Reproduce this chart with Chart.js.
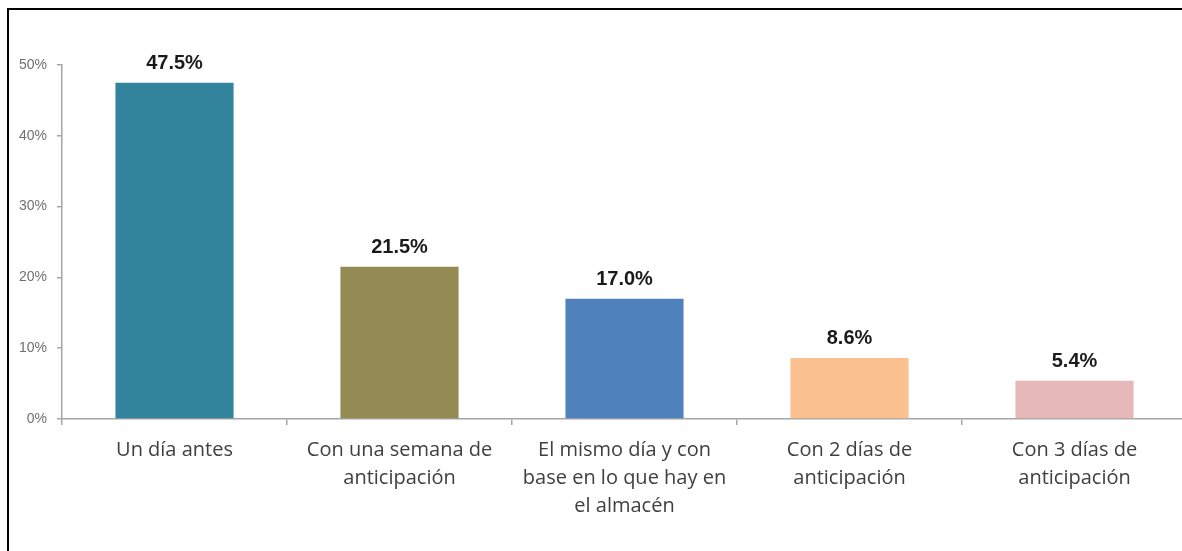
<!DOCTYPE html>
<html>
<head>
<meta charset="utf-8">
<script src="https://cdn.jsdelivr.net/npm/chart.js@4.4.1/dist/chart.umd.min.js"></script>
<style>
  html, body { margin: 0; padding: 0; background: #fff; overflow: hidden; width: 1182px; height: 551px; }
  #wrap { position: absolute; left: 0; top: 0; width: 1182px; height: 551px; overflow: hidden; background: #fff; }
  #frame { position: absolute; left: 7px; top: 8px; width: 1200px; height: 560px; border-top: 2px solid #000; border-left: 2px solid #000; box-sizing: border-box; }
  #cv { position: absolute; left: 0; top: 0; width: 1182px; height: 551px; overflow: hidden; }
  canvas { position: absolute; left: 0; top: 0; }
</style>
</head>
<body>
<div id="wrap">
  <div id="cv"><canvas id="c" width="1192" height="551" style="width:1192px;height:551px"></canvas></div>
  <div id="frame"></div>
</div>
<script>
const categories = [
  ["Un día antes"],
  ["Con una semana de", "anticipación"],
  ["El mismo día y con", "base en lo que hay en", "el almacén"],
  ["Con 2 días de", "anticipación"],
  ["Con 3 días de", "anticipación"]
];
const values = [47.5, 21.5, 17.0, 8.6, 5.4];
const valueLabels = ["47.5%", "21.5%", "17.0%", "8.6%", "5.4%"];
const barColors = ["#31849B", "#948A54", "#4F81BD", "#FAC090", "#E6B9B8"];
const yTicks = [0, 10, 20, 30, 40, 50];

const labelPlugin = {
  id: 'valueLabels',
  afterDatasetsDraw(chart) {
    const ctx = chart.ctx;
    const meta = chart.getDatasetMeta(0);
    ctx.save();
    ctx.font = 'bold 20px Arial, "Liberation Sans", sans-serif';
    ctx.fillStyle = '#1a1a1a';
    ctx.textAlign = 'center';
    ctx.textBaseline = 'alphabetic';
    meta.data.forEach((el, i) => {
      ctx.fillText(valueLabels[i], el.x, el.y - 14);
    });
    ctx.restore();
  }
};

new Chart(document.getElementById('c'), {
  type: 'bar',
  data: {
    labels: categories,
    datasets: [{
      data: values,
      backgroundColor: barColors,
      borderWidth: 0,
      barPercentage: 0.525,
      categoryPercentage: 1.0
    }]
  },
  options: {
    responsive: false,
    maintainAspectRatio: false,
    animation: false,
    devicePixelRatio: 1,
    layout: { padding: { top: 65, right: 5, left: 0, bottom: 0 } },
    plugins: { legend: { display: false }, tooltip: { enabled: false } },
    scales: {
      x: {
        grid: { display: true, drawOnChartArea: false, offset: true, tickLength: 6, color: '#a6a6a6', lineWidth: 1.5 },
        border: { display: true, color: '#a6a6a6', width: 1.5 },
        ticks: {
          maxRotation: 0, autoSkip: false, padding: 11,
          color: '#404040',
          font: { family: '"Open Sans", "Noto Sans", sans-serif', size: 20, lineHeight: 1.4 }
        },
        afterFit(scale) { scale.height = 132; }
      },
      y: {
        min: 0, max: 50,
        afterBuildTicks(scale) { scale.ticks = yTicks.map(v => ({ value: v })); },
        grid: { display: true, drawOnChartArea: false, tickLength: 5, color: '#a6a6a6', lineWidth: 1.5 },
        border: { display: true, color: '#a6a6a6', width: 1.5 },
        ticks: {
          padding: 10,
          color: '#707070',
          font: { family: 'Arial, "Liberation Sans", sans-serif', size: 14 },
          callback: (v) => v + '%'
        },
        afterFit(scale) { scale.width = 62; }
      }
    }
  },
  plugins: [labelPlugin]
});
</script>
</body>
</html>
